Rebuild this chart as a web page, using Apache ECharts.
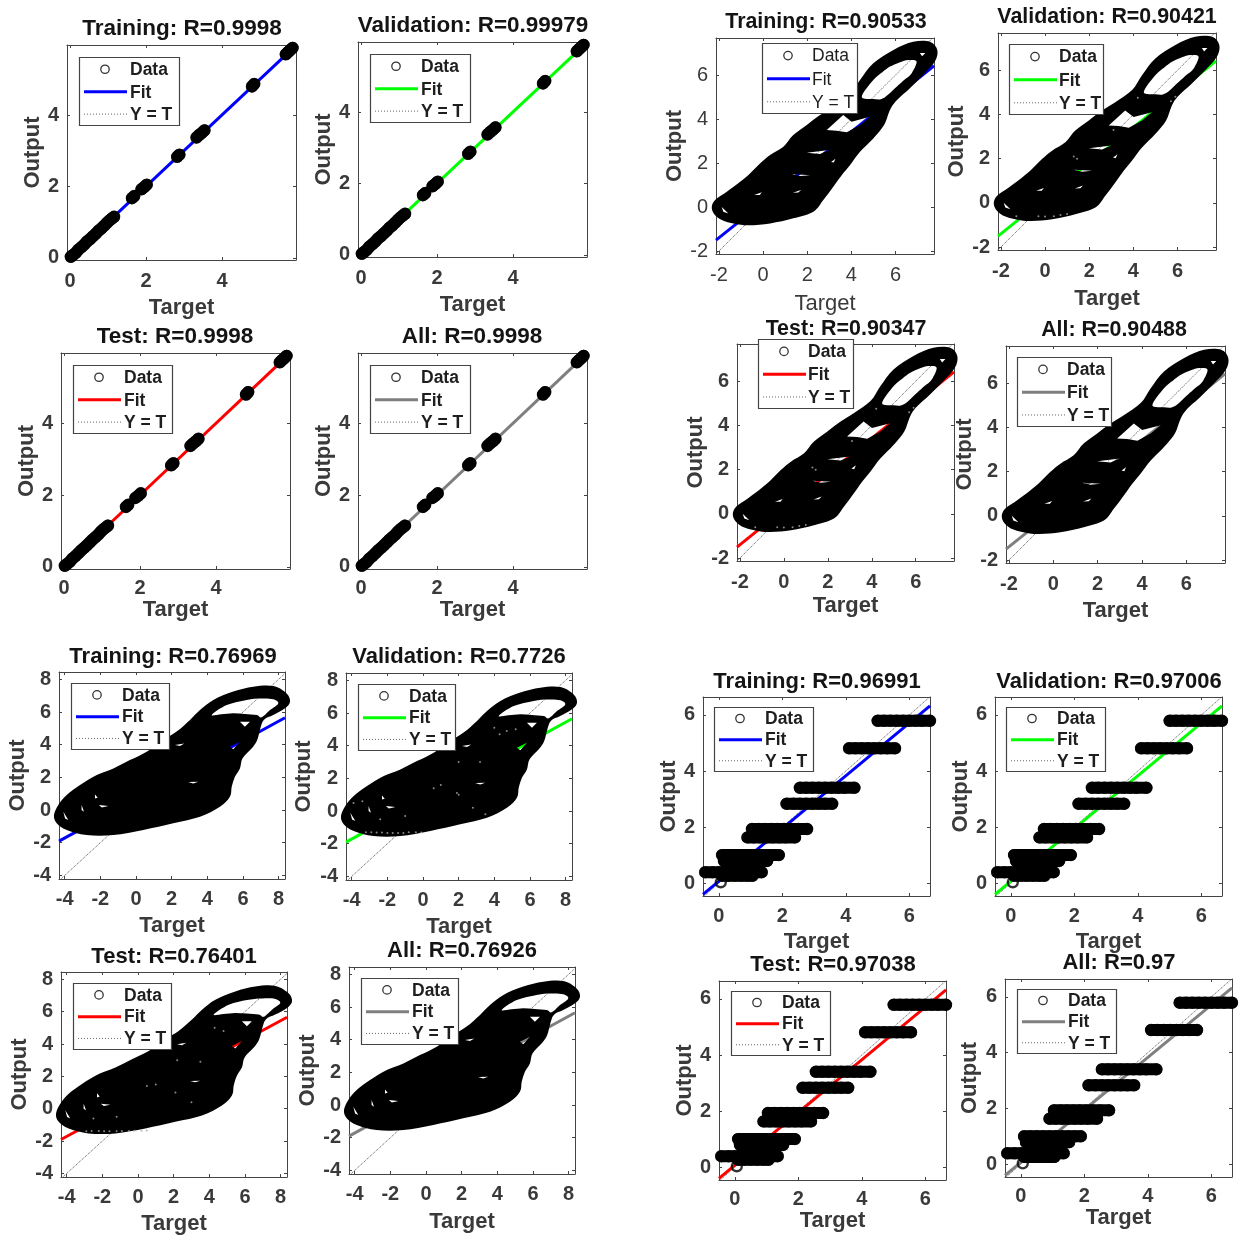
<!DOCTYPE html>
<html><head><meta charset="utf-8">
<style>html,body{margin:0;background:#fff}#c{width:1239px;height:1236px}#c canvas{filter:blur(.55px)}</style>
<script src="https://cdn.jsdelivr.net/npm/echarts@6/dist/echarts.min.js"></script>
</head><body><div id="c"></div>
<script>
// ---------- values ----------
const titlesA = ['Training: R=0.9998','Validation: R=0.99979','Test: R=0.9998','All: R=0.9998'];
const titlesB = ['Training: R=0.90533','Validation: R=0.90421','Test: R=0.90347','All: R=0.90488'];
const titlesC = ['Training: R=0.76969','Validation: R=0.7726','Test: R=0.76401','All: R=0.76926'];
const titlesD = ['Training: R=0.96991','Validation: R=0.97006','Test: R=0.97038','All: R=0.97'];
const fitColors = ['#0000ff','#00ff00','#ff0000','#7f7f7f'];

const ticksA = [0,2,4];
const ticksB = [-2,0,2,4,6];
const ticksC = [-4,-2,0,2,4,6,8];
const ticksD = [0,2,4,6];

const rangeA = [-0.08,5.95,-0.06,5.96];
const rangeB = [-2.13,7.74,-2.13,7.68];
const rangeC = [-4.32,8.36,-4.22,8.45];
const rangeD = [-0.5,6.65,-0.46,6.64];

const fitA = [[-0.08,-0.08],[5.95,5.95]];
const fitB = [[-2.13,-1.5],[7.74,6.42]];
const fitC = [[-4.32,-1.9],[8.36,5.65]];
const fitD = [[-0.5,-0.4],[6.65,6.32]];

// near-perfect panels: target,output pairs, null = gap between clusters
const pointsA = [[0.02,0.03],[0.08,0.08],[0.15,0.14],[0.22,0.23],[0.3,0.3],[0.38,0.38],[0.45,0.46],[0.52,0.52],[0.6,0.6],[0.68,0.68],[0.75,0.76],[0.82,0.82],[0.9,0.9],[0.97,0.98],[1.04,1.05],[1.1,1.1],[1.16,1.15],null,
 [1.63,1.67],[1.69,1.73],null,[1.88,1.92],[1.95,1.98],[2.02,2.05],null,[2.82,2.83],[2.88,2.89],null,[3.33,3.37],[3.4,3.44],[3.47,3.5],[3.54,3.57],null,[4.79,4.8],[4.85,4.87],null,[5.68,5.7],[5.74,5.76],[5.8,5.82],[5.86,5.88]];

// stair-step panels: one row of targets per output level
const levelsD = [5.79,4.81,3.4,2.83,1.93,1.63,1.0,0.79,0.39,0.26];
const targetsD = [
 [5.0,5.2,5.4,5.6,5.8,6.0,6.2,6.4,6.65],
 [4.1,4.3,4.5,4.7,4.9,5.1,5.3,5.55],
 [2.55,2.75,2.95,3.15,3.35,3.55,3.75,3.95,4.27],
 [2.13,2.35,2.55,2.75,2.95,3.15,3.35,3.57],
 [1.04,1.25,1.45,1.65,1.85,2.05,2.25,2.5,2.78],
 [0.9,1.1,1.3,1.5,1.7,1.9,2.1,2.4],
 [0.1,0.3,0.5,0.7,0.9,1.1,1.3,1.5,1.7,1.89],
 [0.16,0.35,0.55,0.75,0.95,1.15,1.35,1.52],
 [-0.43,-0.2,0.0,0.2,0.4,0.6,0.8,1.0,1.2,1.35],
 [0.1,0.3,0.5,0.7,0.9,1.06]
];
const ringD = [[0.06,0.03]];

// hysteresis panels: visible edge of the overlapping data loops
const edgeB = [[-2.32,-0.06],[-2.17,0.32],[-1.64,0.7],[-1.04,1.15],[-0.59,1.53],[-0.14,1.98],[0.32,2.36],[0.92,2.74],[1.37,3.27],[1.98,3.73],[2.58,4.18],[3.18,4.55],[3.94,5.1],[4.39,5.77],[4.99,6.53],[5.9,7.14],[6.8,7.51],[7.56,7.51],[7.89,7.14],[7.78,6.61],[7.25,6.0],[6.65,5.4],[6.0,4.8],[5.72,4.35],[5.48,3.73],[4.99,3.12],[4.39,2.51],[3.94,1.91],[3.56,1.45],[3.18,0.92],[2.73,0.32],[2.28,-0.21],[1.37,-0.51],[0.32,-0.74],[-0.74,-0.82],[-1.64,-0.67],[-2.1,-0.44]];
const gapsB = [
 [[4.47,5.01],[4.99,5.77],[5.4,6.12],[5.75,6.38],[6.2,6.58],[6.57,6.68],[6.95,6.61],[6.73,6.08],[6.4,5.78],[6.05,5.47],[5.44,4.94],[4.99,4.91]],
 [[2.88,3.5],[3.63,4.18],[4.01,3.88],[4.84,4.1],[4.39,3.73],[3.79,3.4],[3.33,3.47]],
 [[1.98,2.47],[3.0,2.59],[2.58,2.41]],
 [[1.3,1.5],[2.13,1.45],[1.67,1.41]],
 [[-0.4,0.55],[-0.05,0.67],[-0.15,0.55]],
 [[1.35,0.65],[1.72,0.78],[1.6,0.66]],
 [[3.08,2.05],[3.28,2.2],[3.2,2.02]],
 [[7.1,7.0],[7.35,7.0],[7.2,6.85]],
 [[-1.87,0.01],[-1.57,-0.29],[-1.8,-0.21]]
];
const specksB = [[-1.3,-0.6],[-0.3,-0.6],[0.0,-0.62],[0.4,-0.6],[0.7,-0.55],[1.0,-0.5],[1.3,2.1],[1.45,2.0],[3.1,3.3],[5.7,4.6],[5.9,4.8],[4.2,4.75]];

const edgeC = [[-4.6,-0.31],[-4.36,0.31],[-3.89,0.92],[-3.14,1.53],[-2.2,2.14],[-1.27,2.55],[-0.34,3.06],[0.6,3.57],[1.53,4.29],[2.28,4.8],[3.03,5.51],[3.59,6.12],[4.34,6.74],[5.46,7.25],[6.58,7.55],[7.7,7.59],[8.45,7.14],[8.64,6.63],[8.36,6.23],[7.7,5.82],[7.2,5.55],[7.0,5.1],[6.8,4.29],[6.5,3.78],[5.98,3.17],[5.83,2.55],[5.55,2.04],[5.37,1.43],[5.27,0.81],[4.71,0.2],[3.59,-0.41],[2.09,-0.81],[0.41,-1.22],[-1.27,-1.53],[-2.77,-1.53],[-3.89,-1.22],[-4.45,-0.81]];
const gapsC = [
 [[4.25,5.82],[5.09,6.43],[6.21,6.74],[7.0,6.82],[7.7,6.78],[7.98,6.53],[7.52,6.12],[7.05,5.68],[6.77,5.82],[6.1,5.88],[5.46,5.92],[4.8,5.86]],
 [[5.83,5.41],[6.39,5.41],[6.11,5.1]],
 [[5.27,3.88],[5.83,4.18],[5.46,3.72]],
 [[2.19,3.98],[2.71,4.08],[2.47,3.92]],
 [[2.93,1.71],[3.49,1.73],[3.21,1.63]],
 [[-2.08,0.31],[-1.55,0.25],[-1.92,0.16]],
 [[-4.08,-0.1],[-3.8,-0.61],[-3.98,-0.51]],
 [[-3.05,0.31],[-2.92,-0.1],[-3.05,0.0]],
 [[-2.3,0.95],[-2.15,0.75],[-2.3,0.7]]
];
const specksValC = [[-3.2,-1.3],[-2.9,-1.3],[-2.6,-1.32],[-2.3,-1.32],[-2.0,-1.34],[-1.7,-1.34],[-1.4,-1.34],[-1.1,-1.34],[-0.8,-1.3],[-0.4,-1.3],[-0.1,-1.32],[4.0,5.1],[4.3,4.7],[4.7,4.9],[5.2,5.0],[3.2,3.0],[2.0,3.0],[1.0,1.6],[0.6,1.4],[2.0,1.0],[1.9,1.1],[2.8,0.2],[3.5,-0.2],[-1.0,-0.3],[-2.4,-0.5],[-3.4,0.6],[-3.9,0.5]];
const specksTestC = [[-2.9,-1.39],[-2.6,-1.38],[-2.2,-1.38],[-1.9,-1.4],[-1.6,-1.4],[-1.2,-1.4],[-0.9,-1.38],[-0.5,-1.38],[-0.2,-1.36],[0.2,-1.36],[0.49,-1.34],[4.3,5.0],[4.8,4.8],[3.5,2.9],[2.2,3.0],[1.0,1.5],[0.5,1.4],[2.1,1.0],[3.0,0.4],[-1.2,-0.5],[-2.5,-0.6]];

// ---------- layout: box [x0,y0,x1,y1], title [cx,cy], target [cx,cy], output cx, legend [x0,y0,x1,y1], tick-label offset ----------
const layoutA = [
 {box:[67,45,296,260],t:[182,29],xl:[182,307],yl:31,lg:[79,57,179,125],tl:20},
 {box:[358,42,587,257],t:[473,26],xl:[473,304],yl:322,lg:[370,54,470,122],tl:20},
 {box:[61,353,290,569],t:[175,337],xl:[175,607],yl:25,lg:[73,365,172,433],tl:18},
 {box:[358,353,587,569],t:[472,337],xl:[470,608],yl:322,lg:[370,365,470,433],tl:18}];
const layoutB = [
 {box:[716,38,934,254],t:[826,22],xl:[826,303],yl:675,lg:[762,43,857,113],tl:20,thin:true},
 {box:[998,33,1216,250],t:[1107,17],xl:[1107,298],yl:957,lg:[1009,44,1103,114],tl:20},
 {box:[737,344,954,561],t:[846,329],xl:[845,605],yl:696,lg:[758,339,853,408],tl:20},
 {box:[1006,346,1225,563],t:[1114,330],xl:[1115,610],yl:968,lg:[1017,357,1111,426],tl:20}];
const layoutC = [
 {box:[59,672,285,879],t:[173,657],xl:[173,925],yl:21,lg:[71,683,169,749],tl:19},
 {box:[346,673,572,880],t:[459,657],xl:[459,926],yl:302,lg:[358,684,455,750],tl:19},
 {box:[61,972,287,1179],t:[174,957],xl:[175,1225],yl:18,lg:[73,983,171,1049],tl:19},
 {box:[349,967,575,1174],t:[462,951],xl:[463,1221],yl:306,lg:[361,978,458,1044],tl:19}];
const layoutD = [
 {box:[703,697,930,896],t:[817,682],xl:[817,941],yl:667,lg:[714,707,813,771],tl:19},
 {box:[995,697,1222,896],t:[1109,682],xl:[1109,941],yl:959,lg:[1006,707,1105,771],tl:19},
 {box:[719,981,946,1180],t:[833,965],xl:[833,1217],yl:688,lg:[731,991,830,1055],tl:18},
 {box:[1005,979,1232,1177],t:[1119,963],xl:[1119,1214],yl:968,lg:[1017,989,1116,1053],tl:18}];

// ---------- assembling ----------
const FONT = '"Liberation Sans", Arial, sans-serif';
const INK = '#3a3a3a';
const option = {animation:false,backgroundColor:'#fff',title:[],grid:[],xAxis:[],yAxis:[],series:[],graphic:[]};

function oriented(ring, api){
  const px = ring.map(p => api.coord(p));
  let a = 0;
  px.forEach((p,i)=>{const q = px[(i+1)%px.length]; a += p[0]*q[1]-q[0]*p[1];});
  return {px, area:a};
}
function curvedPath(px){
  const n = px.length, f = v => v.toFixed(1);
  let d = 'M'+f(px[0][0])+' '+f(px[0][1]);
  for(let i=0;i<n;i++){
    const p0=px[(i-1+n)%n],p1=px[i],p2=px[(i+1)%n],p3=px[(i+2)%n];
    d += 'C'+f(p1[0]+(p2[0]-p0[0])/6)+' '+f(p1[1]+(p2[1]-p0[1])/6)+' '+f(p2[0]-(p3[0]-p1[0])/6)+' '+f(p2[1]-(p3[1]-p1[1])/6)+' '+f(p2[0])+' '+f(p2[1]);
  }
  return d+'Z';
}
function blobSeries(idx, edge, gaps){
  return {type:'custom',xAxisIndex:idx*2,yAxisIndex:idx*2,z:3,silent:true,clip:false,data:[edge[0]],
    renderItem(params, api){
      const o = oriented(edge, api);
      let d = curvedPath(o.px);
      gaps.forEach(g=>{
        const h = oriented(g, api);
        const px = (h.area>0)===(o.area>0) ? h.px.slice().reverse() : h.px;
        d += px.length>8 ? curvedPath(px) : 'M'+px.map(p=>p[0].toFixed(1)+' '+p[1].toFixed(1)).join('L')+'Z';
      });
      return {type:'path',shape:{pathData:d},style:{fill:'#000'}};
    }};
}
function addPanel(idx, title, L, range, ticks, fit, color, titleSize, dataSeries){
  const [x0,y0,x1,y1] = L.box;
  const weight = L.thin ? 'normal' : 'bold';
  option.title.push({text:title,left:L.t[0],top:L.t[1],padding:0,textAlign:'center',textVerticalAlign:'middle',
    textStyle:{fontFamily:FONT,fontSize:titleSize,fontWeight:'bold',color:'#141414'}});
  option.grid.push({left:x0,top:y0,width:x1-x0,height:y1-y0,show:false});
  const line = {show:true,onZero:false,lineStyle:{color:'#444',width:1}};
  const tick = {show:true,inside:true,length:3,customValues:ticks,lineStyle:{color:'#444',width:1}};
  const mk = (min,max,pos,main)=>({type:'value',gridIndex:idx,min,max,position:pos,splitLine:{show:false},axisLine:line,axisTick:tick,
    axisLabel: main ? {show:true,customValues:ticks,margin:L.tl-9,hideOverlap:false,showMinLabel:true,showMaxLabel:true,
      fontFamily:FONT,fontSize:20,fontWeight:weight,color:INK} : {show:false}});
  const xa = mk(range[0],range[1],'bottom',true);
  Object.assign(xa,{name:'Target',nameLocation:'middle',nameGap:L.xl[1]-y1-10,
    nameTextStyle:{fontFamily:FONT,fontSize:22,fontWeight:weight,color:INK}});
  const ya = mk(range[2],range[3],'left',true);
  ya.axisLabel.margin = 8;
  ya.axisLabel.padding = [4,0,0,0];
  Object.assign(ya,{name:'Output',nameLocation:'middle',nameGap:x0-L.yl-13,
    nameTextStyle:{fontFamily:FONT,fontSize:22,fontWeight:'bold',color:INK}});
  option.xAxis.push(xa, mk(range[0],range[1],'top',false));
  option.yAxis.push(ya, mk(range[2],range[3],'right',false));
  const ax = {xAxisIndex:idx*2,yAxisIndex:idx*2};
  const lo = Math.max(range[0],range[2]), hi = Math.min(range[1],range[3]);
  option.series.push(
    {...ax,type:'line',name:'Y = T',z:1,silent:true,showSymbol:false,data:[[lo,lo],[hi,hi]],lineStyle:{color:'#555',width:1,type:'dotted'}},
    {...ax,type:'line',name:'Fit',z:2,silent:true,showSymbol:false,data:fit,lineStyle:{color,width:3}},
    ...dataSeries(idx,ax));
  // legend box
  const [a,b,c,e] = L.lg, h = e-b, rows=[b+h*0.18,b+h*0.51,b+h*0.84];
  const g = option.graphic, Z=50;
  const txt = (s,y)=>({type:'text',z:Z+1,x:a+(ticks===ticksB?50:51),y:y+1,style:{text:s,fontFamily:FONT,fontSize:17.5,fontWeight:weight,fill:'#1e1e1e',verticalAlign:'middle',align:'left'}});
  g.push({type:'rect',z:Z,shape:{x:a+.5,y:b+.5,width:c-a,height:h},style:{fill:'#fff',stroke:'#444',lineWidth:1.2}},
    {type:'circle',z:Z+1,shape:{cx:a+26,cy:rows[0],r:4.2},style:{fill:'none',stroke:'#333',lineWidth:1.3}},
    {type:'line',z:Z+1,shape:{x1:a+5,y1:rows[1],x2:a+48,y2:rows[1]},style:{stroke:color,lineWidth:3}},
    {type:'line',z:Z+1,shape:{x1:a+5,y1:rows[2],x2:a+48,y2:rows[2]},style:{stroke:'#666',lineWidth:1,lineDash:[1,2]}},
    txt('Data',rows[0]),txt('Fit',rows[1]),txt('Y = T',rows[2]));
}
const circles = (ax,data)=>({...ax,type:'scatter',name:'Data',z:4,silent:true,data,symbol:'circle',symbolSize:10,clip:false,
  itemStyle:{color:'rgba(0,0,0,0)',borderColor:'#000',borderWidth:2.4}});
const trace = (ax,data)=>({...ax,type:'line',name:'Data',z:3,silent:true,showSymbol:false,connectNulls:false,clip:false,data,
  lineStyle:{color:'#000',width:12,cap:'round',join:'round'}});
const specks = (ax,data)=>({...ax,type:'scatter',name:'Data',z:5,silent:true,data,symbol:'circle',symbolSize:2,clip:false,itemStyle:{color:'#aaa'}});

let n = 0;
const seriesA = (i,ax)=>[trace(ax,pointsA.map(p=>p||['-','-'])),circles(ax,pointsA.filter(Boolean))];
titlesA.forEach((t,k)=>addPanel(n++,t,layoutA[k],rangeA,ticksA,fitA,fitColors[k],22.5,seriesA));

titlesB.forEach((t,k)=>addPanel(n++,t,layoutB[k],rangeB,ticksB,fitB,fitColors[k],21.4,(i,ax)=>{
  const out=[blobSeries(i,edgeB,gapsB)];
  if(k===1||k===2) out.push(specks(ax,specksB));
  return out;}));

titlesC.forEach((t,k)=>addPanel(n++,t,layoutC[k],rangeC,ticksC,fitC,fitColors[k],22,(i,ax)=>{
  const out=[blobSeries(i,edgeC,gapsC)];
  if(k===1) out.push(specks(ax,specksValC));
  if(k===2) out.push(specks(ax,specksTestC));
  return out;}));

const stepPoints = [];
targetsD.forEach((xs,j)=>{xs.forEach(x=>stepPoints.push([x,levelsD[j]])); stepPoints.push(null);});
const seriesD = (i,ax)=>[trace(ax,stepPoints.map(p=>p||['-','-'])),circles(ax,stepPoints.filter(Boolean).concat(ringD))];
titlesD.forEach((t,k)=>addPanel(n++,t,layoutD[k],rangeD,ticksD,fitD,fitColors[k],22,seriesD));

echarts.init(document.getElementById('c'),null,{renderer:'canvas'}).setOption(option);
</script></body></html>
